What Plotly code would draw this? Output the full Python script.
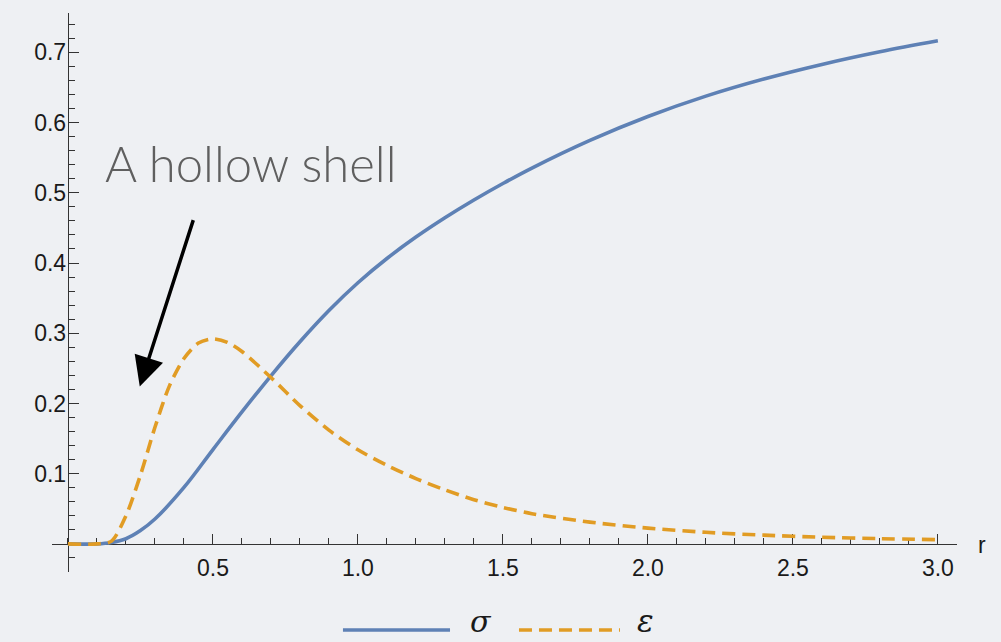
import plotly.graph_objects as go

# sigma(r): solid blue curve
r_sigma = [0.0, 0.10, 0.15, 0.20, 0.25, 0.30, 0.40, 0.50, 0.60, 0.70, 0.80, 0.90, 1.00,
           1.10, 1.20, 1.30, 1.40, 1.50, 1.60, 1.80, 2.00, 2.20, 2.40, 2.60, 2.80, 3.00]
sigma = [0.0, 0.0, 0.002, 0.0074, 0.019, 0.0354, 0.0804, 0.1344, 0.1879, 0.2394, 0.2879, 0.3324,
         0.3719, 0.4064, 0.4369, 0.4644, 0.4897, 0.5132, 0.5352, 0.5746, 0.6086, 0.6376, 0.662,
         0.6828, 0.7008, 0.7164]

# epsilon(r): dashed orange curve
r_eps = [0.0, 0.10, 0.15, 0.20, 0.25, 0.30, 0.35, 0.40, 0.45, 0.50, 0.55, 0.60, 0.70,
         0.80, 0.90, 1.00, 1.10, 1.20, 1.30, 1.40, 1.50, 1.60, 1.80, 2.00, 2.20, 2.40,
         2.60, 2.80, 3.00]
eps = [0.0, 0.0, 0.004, 0.040, 0.098, 0.166, 0.225, 0.264, 0.286, 0.292, 0.287, 0.274, 0.237,
       0.197, 0.162, 0.134, 0.112, 0.093, 0.077, 0.063, 0.052, 0.043, 0.031, 0.0225, 0.0165, 0.0125,
       0.0095, 0.0075, 0.006]

x_ticks = [0.5, 1.0, 1.5, 2.0, 2.5, 3.0]
x_labels = ["0.5", "1.0", "1.5", "2.0", "2.5", "3.0"]
y_ticks = [0.1, 0.2, 0.3, 0.4, 0.5, 0.6, 0.7]
y_labels = ["0.1", "0.2", "0.3", "0.4", "0.5", "0.6", "0.7"]

BLUE = "#5e81b5"
ORANGE = "#e19c24"
BG = "#eef0f3"
AXIS = "#333333"

X_RANGE = [-0.055, 3.066]
Y_RANGE = [-0.04, 0.756]

fig = go.Figure()
fig.add_trace(go.Scatter(x=r_sigma, y=sigma, mode="lines",
                         line=dict(color=BLUE, width=3.6, shape="spline", smoothing=1.0),
                         showlegend=False, hoverinfo="skip"))
fig.add_trace(go.Scatter(x=r_eps, y=eps, mode="lines",
                         line=dict(color=ORANGE, width=3.6, dash="13px,7px",
                                   shape="spline", smoothing=0.8),
                         showlegend=False, hoverinfo="skip"))

# axes cross at the origin
x_pos = (0 - Y_RANGE[0]) / (Y_RANGE[1] - Y_RANGE[0])
y_pos = (0 - X_RANGE[0]) / (X_RANGE[1] - X_RANGE[0])

tick_font = dict(family="Liberation Sans, Arial, sans-serif", size=23, color="#1a1a1a")

fig.update_layout(
    width=1001, height=642,
    margin=dict(l=52, r=44, t=13, b=70),
    paper_bgcolor=BG, plot_bgcolor=BG,
    xaxis=dict(range=X_RANGE, anchor="free", position=x_pos,
               showgrid=False, zeroline=False, showline=True,
               linecolor=AXIS, linewidth=1.4, layer="below traces",
               tickvals=x_ticks, ticktext=x_labels, ticks="inside",
               ticklen=10, tickwidth=1.2, tickcolor=AXIS, tickfont=tick_font,
               ticklabelstandoff=3,
               minor=dict(tick0=0, dtick=0.1, ticks="inside", ticklen=5.5,
                          tickwidth=1.2, tickcolor=AXIS, showgrid=False)),
    yaxis=dict(range=Y_RANGE, anchor="free", position=y_pos,
               showgrid=False, zeroline=False, showline=True,
               linecolor=AXIS, linewidth=1.4, layer="below traces",
               tickvals=y_ticks, ticktext=y_labels, ticks="inside",
               ticklen=10, tickwidth=1.2, tickcolor=AXIS, tickfont=tick_font,
               ticklabelstandoff=-3,
               minor=dict(tick0=0, dtick=0.02, ticks="inside", ticklen=5.5,
                          tickwidth=1.2, tickcolor=AXIS, showgrid=False)),
)

# axis label
fig.add_annotation(text="r", xref="paper", yref="paper", x=1.0276, y=0.049,
                   xanchor="center", yanchor="middle", showarrow=False,
                   font=dict(family="Liberation Sans, Arial, sans-serif", size=23, color="#1a1a1a"))

# annotation text and arrow
fig.add_annotation(text="A hollow shell", xref="paper", yref="paper",
                   x=0.0564, y=0.732, xanchor="left", yanchor="middle", showarrow=False,
                   font=dict(family="Lato", size=49, color="#5f5f5f", weight=300))
fig.add_annotation(x=0.2476, y=0.224, xref="x", yref="y", ax=54, ay=-168,
                   axref="pixel", ayref="pixel", text="", showarrow=True,
                   arrowhead=2, arrowsize=1.7, arrowwidth=3.5, arrowcolor="#000000")

# legend drawn below the plot
fig.add_shape(type="line", xref="paper", yref="paper", x0=0.3215, x1=0.4398,
              y0=-0.1038, y1=-0.1038, line=dict(color=BLUE, width=3.6))
fig.add_shape(type="line", xref="paper", yref="paper", x0=0.516, x1=0.6276,
              y0=-0.1038, y1=-0.1038, line=dict(color=ORANGE, width=3.6, dash="13px,7px"))
fig.add_annotation(text="σ", xref="paper", yref="paper", x=0.4735, y=-0.088,
                   xanchor="center", yanchor="middle", showarrow=False,
                   font=dict(family="DejaVu Serif", size=30, color="#1a1a1a", style="italic"))
fig.add_annotation(text="ε", xref="paper", yref="paper", x=0.6555, y=-0.088,
                   xanchor="center", yanchor="middle", showarrow=False,
                   font=dict(family="DejaVu Serif", size=31, color="#1a1a1a", style="italic"))

fig.write_html("out.html")
